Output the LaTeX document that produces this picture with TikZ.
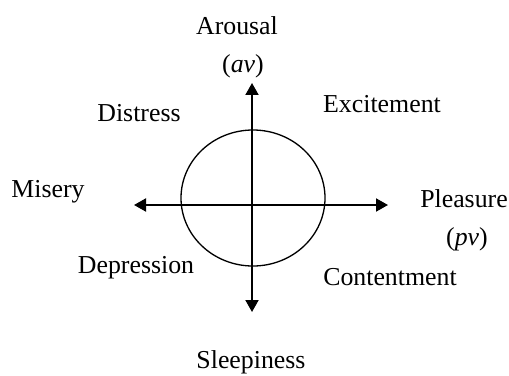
\documentclass[tikz,border=0pt]{standalone}
\usepackage{fontspec}
\setmainfont{Liberation Serif}
\usetikzlibrary{arrows.meta}

\begin{document}
\begin{tikzpicture}[x=0.02cm,y=-0.02cm,>={Triangle[length=0.24cm,width=0.26cm]}, font=\fontsize{14.7}{17}\selectfont, line join=round]
	\def\xo{252} \def\yo{205}
	\tikzset{lbl/.style={anchor=base,inner sep=0pt}}
	\useasboundingbox (0,0) rectangle (509,375);
	\coordinate (O) at (\xo,\yo);
	\coordinate (W) at (134,\yo); \coordinate (E) at (388,\yo);
	\coordinate (N) at (\xo,83); \coordinate (S) at (\xo,312);
	\draw[line width=1.1pt,<->] (W)--(E);
	\draw[line width=1.1pt,<->] (S)--(N);
	\draw[line width=0.75pt] (253,198) ellipse (72 and 68);
	% labels
	\node[lbl] (arousal) at (237,35) {Arousal};
	\node[lbl] (av) at (243,72) {(\textit{av})};
	\node[lbl] (distress) at (139,121) {Distress};
	\node[lbl] (excite) at (382,112) {Excitement};
	\node[lbl] (misery) at (48,197) {Misery};
	\node[lbl] (pleasure) at (464,207) {Pleasure};
	\node[lbl] (pv) at (467,245) {(\textit{pv})};
	\node[lbl] (depress) at (136,273) {Depression};
	\node[lbl] (content) at (390,285) {Contentment};
	\node[lbl] (sleep) at (251,368) {Sleepiness};
\end{tikzpicture}
\end{document}
